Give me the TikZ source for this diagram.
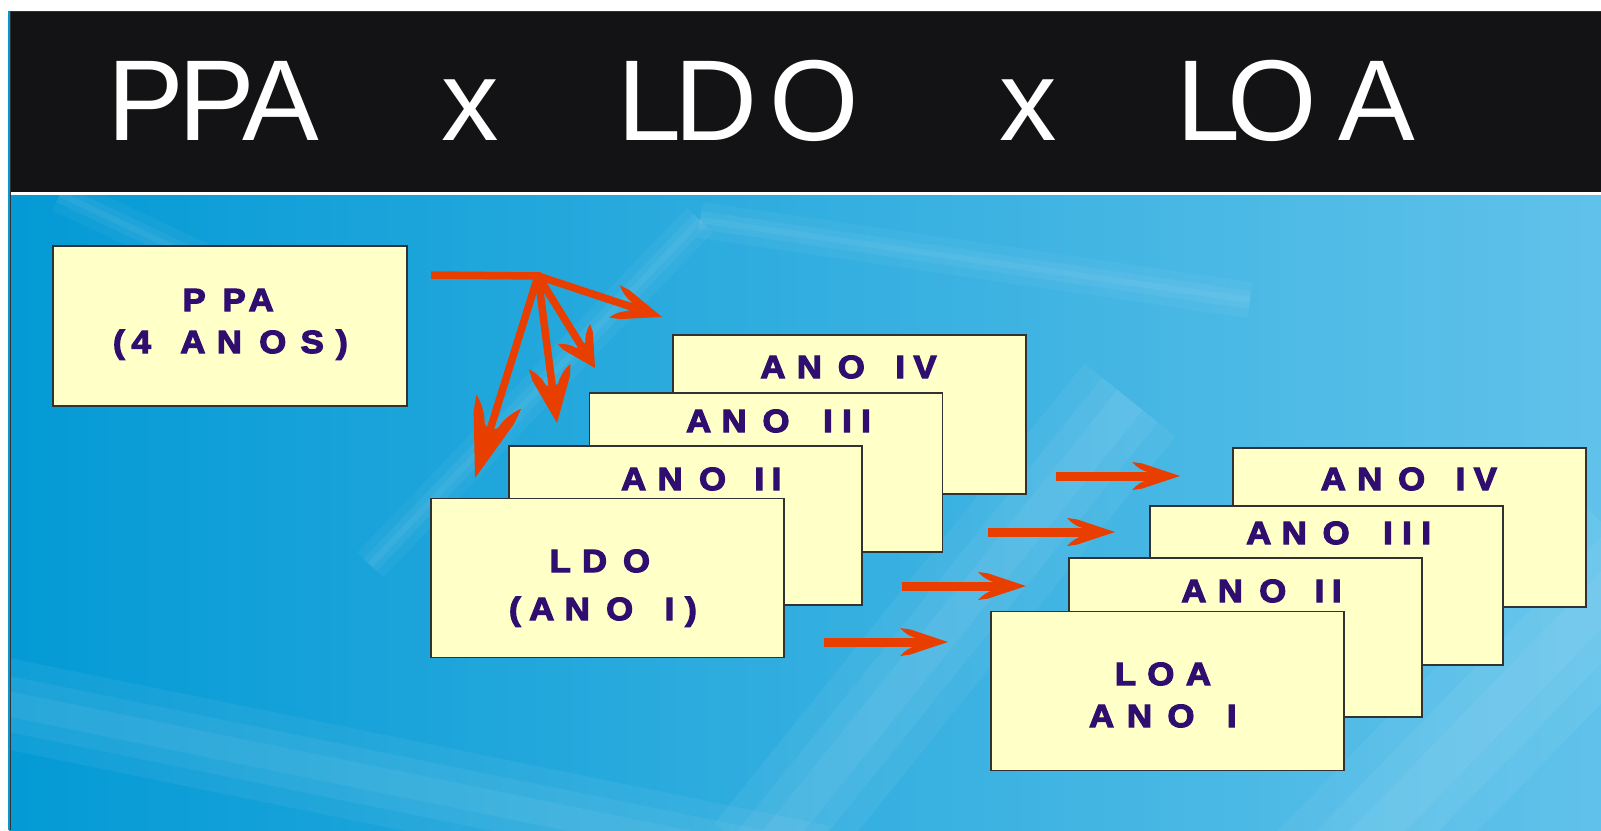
\documentclass[tikz,border=0pt]{standalone}
\usepackage{fontspec}
\setmainfont{Liberation Sans}
\newfontfamily\boxfont[FakeStretch=1.08,FakeBold=4]{Liberation Sans}
\usetikzlibrary{arrows.meta}
\definecolor{hdr}{RGB}{19,19,21}
\definecolor{boxfill}{RGB}{255,255,200}
\definecolor{boxline}{RGB}{50,50,50}
\definecolor{boxtext}{RGB}{48,14,112}
\definecolor{arrowc}{RGB}{232,62,0}
\definecolor{bgL}{RGB}{4,154,213}
\definecolor{bgR}{RGB}{96,194,234}
\definecolor{edge}{RGB}{10,150,210}

\pgfdeclarearrow{
  name = Barb,
  parameters = {\the\pgfarrowlength,\the\pgfarrowwidth},
  setup code = {
    \pgfarrowssettipend{0pt}
    \pgfarrowssetlineend{-0.5\pgfarrowlength}
    \pgfarrowssetvisualbackend{-\pgfarrowlength}
    \pgfarrowssavethe\pgfarrowlength
    \pgfarrowssavethe\pgfarrowwidth
  },
  drawing code = {
    \pgfpathmoveto{\pgfqpoint{0pt}{0pt}}
    \pgfpathlineto{\pgfpoint{-0.79\pgfarrowlength}{0.45\pgfarrowwidth}}
    \pgfpathlineto{\pgfpoint{-\pgfarrowlength}{0.5\pgfarrowwidth}}
    \pgfpathcurveto{\pgfpoint{-0.9\pgfarrowlength}{0.3\pgfarrowwidth}}{\pgfpoint{-0.78\pgfarrowlength}{0.2\pgfarrowwidth}}{\pgfpoint{-0.68\pgfarrowlength}{0.145\pgfarrowwidth}}
    \pgfpathlineto{\pgfpoint{-0.62\pgfarrowlength}{0pt}}
    \pgfpathlineto{\pgfpoint{-0.68\pgfarrowlength}{-0.145\pgfarrowwidth}}
    \pgfpathcurveto{\pgfpoint{-0.78\pgfarrowlength}{-0.2\pgfarrowwidth}}{\pgfpoint{-0.9\pgfarrowlength}{-0.3\pgfarrowwidth}}{\pgfpoint{-\pgfarrowlength}{-0.5\pgfarrowwidth}}
    \pgfpathlineto{\pgfpoint{-0.79\pgfarrowlength}{-0.45\pgfarrowwidth}}
    \pgfpathclose
    \pgfusepathqfill
  },
  defaults = {length = 48pt, width = 28pt}
}

\begin{document}
\begin{tikzpicture}[x=1pt,y=-1pt,
  box/.style={draw=boxline, line width=1.2pt, fill=boxfill, inner sep=0pt,
              minimum width=353pt, minimum height=159pt},
  boxtxt/.style={text=boxtext, font=\boxfont\bfseries\fontsize{32}{38}\selectfont,
                 inner sep=0pt, anchor=base west},
  ttl/.style={text=white, font=\fontsize{115}{115}\selectfont, inner sep=0pt, anchor=base west},
  harrow/.style={draw=arrowc, line width=9pt},
  fan/.style={draw=arrowc, line width=7.5pt},
  glow/.style={white, line cap=butt}
]
\useasboundingbox (0,0) rectangle (1601,830);
% page and slide background
\fill[white] (0,0) rectangle (1601,830);
\begin{scope}
\clip (9,194) rectangle (1601,830);
\shade[left color=bgL, right color=bgR] (9,11) rectangle (1601,830);
% soft light streaks
\foreach \w/\o in {90/0.05,55/0.05,25/0.05}{
  \draw[glow, line width=\w pt, opacity=\o] (-20,698) -- (820,870);
  \draw[glow, line width=1.3*\w pt, opacity=\o] (760,860) -- (1130,400);
  \draw[glow, line width=1.6*\w pt, opacity=\o] (1330,880) -- (1640,560);
}
\foreach \w/\o in {36/0.04,18/0.05,6/0.05}{
  \draw[glow, line width=\w pt, opacity=\o] (370,565) -- (700,220);
  \draw[glow, line width=\w pt, opacity=\o] (700,220) -- (1250,300);
  \draw[glow, line width=\w pt, opacity=\o] (60,194) -- (200,260);
}
\end{scope}
% left border
\fill[edge] (8,11) rectangle (10,830);
\draw[boxline, line width=1pt] (10.5,11) -- (10.5,830);
% header
\fill[hdr] (11,11) rectangle (1601,192);
\draw[boxline, line width=1pt] (11,11.5) -- (1601,11.5);
\fill[white] (11,192) rectangle (1601,194.5);

% title
\node[ttl] (tppa) at (107,140) {P\kern-5pt P\kern-13pt A};
\node[ttl] (tx1) at (441,140) {x};
\node[ttl] (tldo) at (617.6,140) {L\kern-7pt D\kern12pt O};
\node[ttl] (tx2) at (999,140) {x};
\node[ttl] (tloa) at (1176.6,140) {L\kern-13pt O\kern21pt A};

% PPA box
\node[box, minimum width=354pt, minimum height=160pt] (ppa) at (230,326) {};
\node[boxtxt] (ppa1) at (182.4,311) {P\kern17pt P\kern3pt A};
\node[boxtxt] (ppa2) at (112.9,353) {(\kern7pt 4 \kern20pt A\kern11.5pt N\kern17.5pt O\kern14.5pt S\kern12.5pt )};

% LDO stack
\node[box] (l4) at (849.5,414.5) {};
\node[boxtxt] (l4t) at (760.3,378) {A\kern11.5pt N\kern16pt O \kern21pt I\kern8.5pt V};
\node[box] (l3) at (766,472.5) {};
\node[boxtxt] (l3t) at (686,432) {A\kern10.5pt N\kern16pt O \kern24pt I\kern9.5pt I\kern9.5pt I};
\node[box] (l2) at (685.5,525.5) {};
\node[boxtxt] (l2t) at (621,490) {A\kern11.5pt N\kern16.5pt O \kern19pt I\kern7.5pt I};
\node[box] (l1) at (607.5,578) {};
\node[boxtxt] (l1a) at (549.5,572) {L\kern11.3pt D\kern16pt O};
\node[boxtxt] (l1b) at (508.9,620) {(\kern8.7pt A\kern10.5pt N\kern16.5pt O \kern22pt I\kern11pt )};

% LOA stack
\node[box] (o4) at (1409.5,527.5) {};
\node[boxtxt] (o4t) at (1320.6,490) {A\kern11.5pt N\kern16pt O \kern21pt I\kern8.5pt V};
\node[box] (o3) at (1326.5,585.5) {};
\node[boxtxt] (o3t) at (1246.1,544) {A\kern10.5pt N\kern16pt O \kern24pt I\kern9.5pt I\kern9.5pt I};
\node[box] (o2) at (1245.5,637.5) {};
\node[boxtxt] (o2t) at (1181.2,602) {A\kern11.5pt N\kern16.5pt O \kern19pt I\kern7.5pt I};
\node[box] (o1) at (1167.5,691) {};
\node[boxtxt] (o1a) at (1114.7,685) {L\kern11.4pt O\kern11.7pt A};
\node[boxtxt] (o1b) at (1088.9,727) {A\kern13pt N\kern15.5pt O \kern23pt I};

% PPA fan arrows
\coordinate (ps) at (431,275);
\coordinate (j) at (538,276);
\coordinate (t1) at (662,317);
\coordinate (t2) at (595,368);
\coordinate (t3) at (557,423);
\coordinate (t4) at (475,478);
\draw[fan] (ps) -- ([xshift=3pt]j);
\draw[fan, -{Barb[length=50pt,width=34pt]}] (j) -- (t1);
\draw[fan, -{Barb[length=40pt,width=38pt]}] (j) -- (t2);
\draw[fan, -{Barb[length=57pt,width=42pt]}] (j) -- (t3);
\draw[fan, -{Barb[length=80pt,width=47pt]}] (j) -- (t4);

% LDO -> LOA arrows
\coordinate (h1s) at (1056,476); \coordinate (h1e) at (1180,476);
\coordinate (h2s) at (988,532);  \coordinate (h2e) at (1115,532);
\coordinate (h3s) at (902,586);  \coordinate (h3e) at (1026,586);
\coordinate (h4s) at (824,642);  \coordinate (h4e) at (948,642);
\draw[harrow, -{Barb[length=48pt,width=28pt]}] (h1s) -- (h1e);
\draw[harrow, -{Barb[length=48pt,width=28pt]}] (h2s) -- (h2e);
\draw[harrow, -{Barb[length=48pt,width=28pt]}] (h3s) -- (h3e);
\draw[harrow, -{Barb[length=48pt,width=28pt]}] (h4s) -- (h4e);
\end{tikzpicture}
\end{document}
